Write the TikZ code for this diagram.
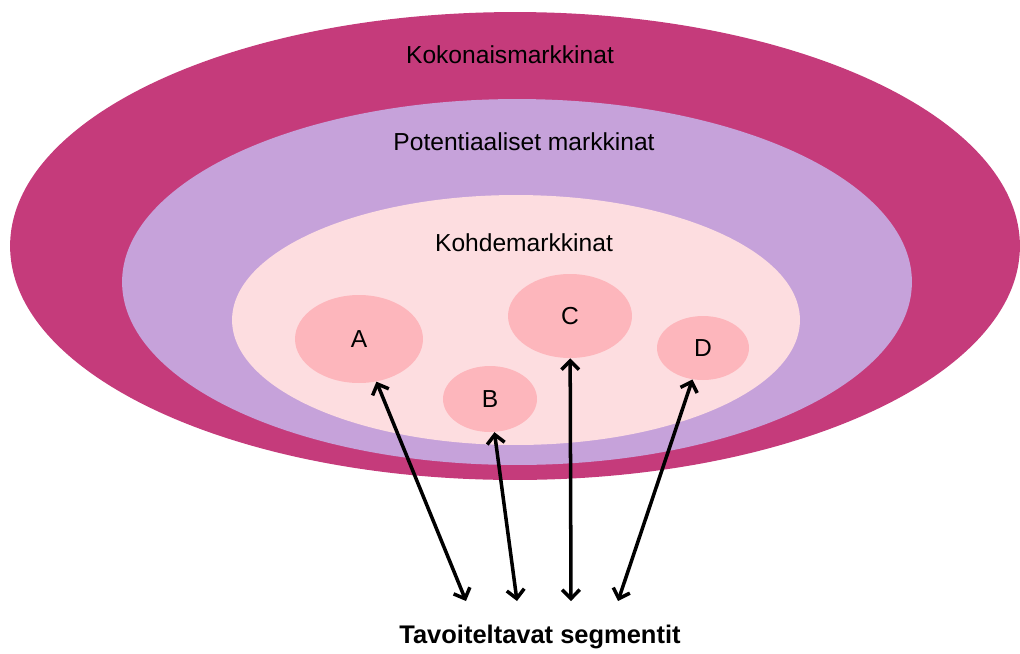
\documentclass[tikz,border=0pt]{standalone}
\usepackage{fontspec}
\setmainfont{Liberation Sans}
\usepackage{tikz}
\usetikzlibrary{arrows.meta,positioning,shapes.geometric}

\definecolor{totalmag}{HTML}{C53B7B}
\definecolor{potpurple}{HTML}{C6A2DA}
\definecolor{targetpink}{HTML}{FDDDE0}
\definecolor{segpink}{HTML}{FDB6BC}

\begin{document}
\begin{tikzpicture}[x=0.02cm, y=-0.02cm,
  market/.style={ellipse,inner sep=0pt,draw=none},
  seg/.style={ellipse,inner sep=0pt,draw=none,fill=segpink,font=\fontsize{14}{16}\selectfont},
  title/.style={font=\fontsize{14}{16}\selectfont},
  line/.style={{Straight Barb[length=5pt,width=10pt]}-{Straight Barb[length=5pt,width=10pt]},line width=2pt}]
\useasboundingbox (0,0) rectangle (1020,653);
% markets
\node[market,fill=totalmag,minimum width=20.2cm,minimum height=9.36cm] (total) at (515,246) {};
\node[market,fill=potpurple,minimum width=15.8cm,minimum height=7.32cm] (potential) at (517,282) {};
\node[market,fill=targetpink,minimum width=11.36cm,minimum height=5cm] (target) at (516,320) {};
\node[title] (totallbl) at (510,55) {Kokonaismarkkinat};
\node[title] (potlbl) at (524,142) {Potentiaaliset markkinat};
\node[title] (targetlbl) at (524,243) {Kohdemarkkinat};
% segments
\node[seg,minimum width=2.56cm,minimum height=1.76cm] (a) at (359,339) {A};
\node[seg,minimum width=1.88cm,minimum height=1.32cm] (b) at (490,399) {B};
\node[seg,minimum width=2.48cm,minimum height=1.68cm] (c) at (570,316) {C};
\node[seg,minimum width=1.84cm,minimum height=1.28cm] (d) at (703,348) {D};
% label and arrows
\node[font=\fontsize{14.5}{18}\selectfont\bfseries] (goal) at (540,637) {Tavoiteltavat segmentit};
\coordinate (ta) at (466,601);
\coordinate (tb) at (517,601);
\coordinate (tc) at (571,601);
\coordinate (td) at (618,601);
\draw[line] (a) -- (ta);
\draw[line] (b) -- (tb);
\draw[line] (c) -- (tc);
\draw[line] (d) -- (td);
\end{tikzpicture}
\end{document}
